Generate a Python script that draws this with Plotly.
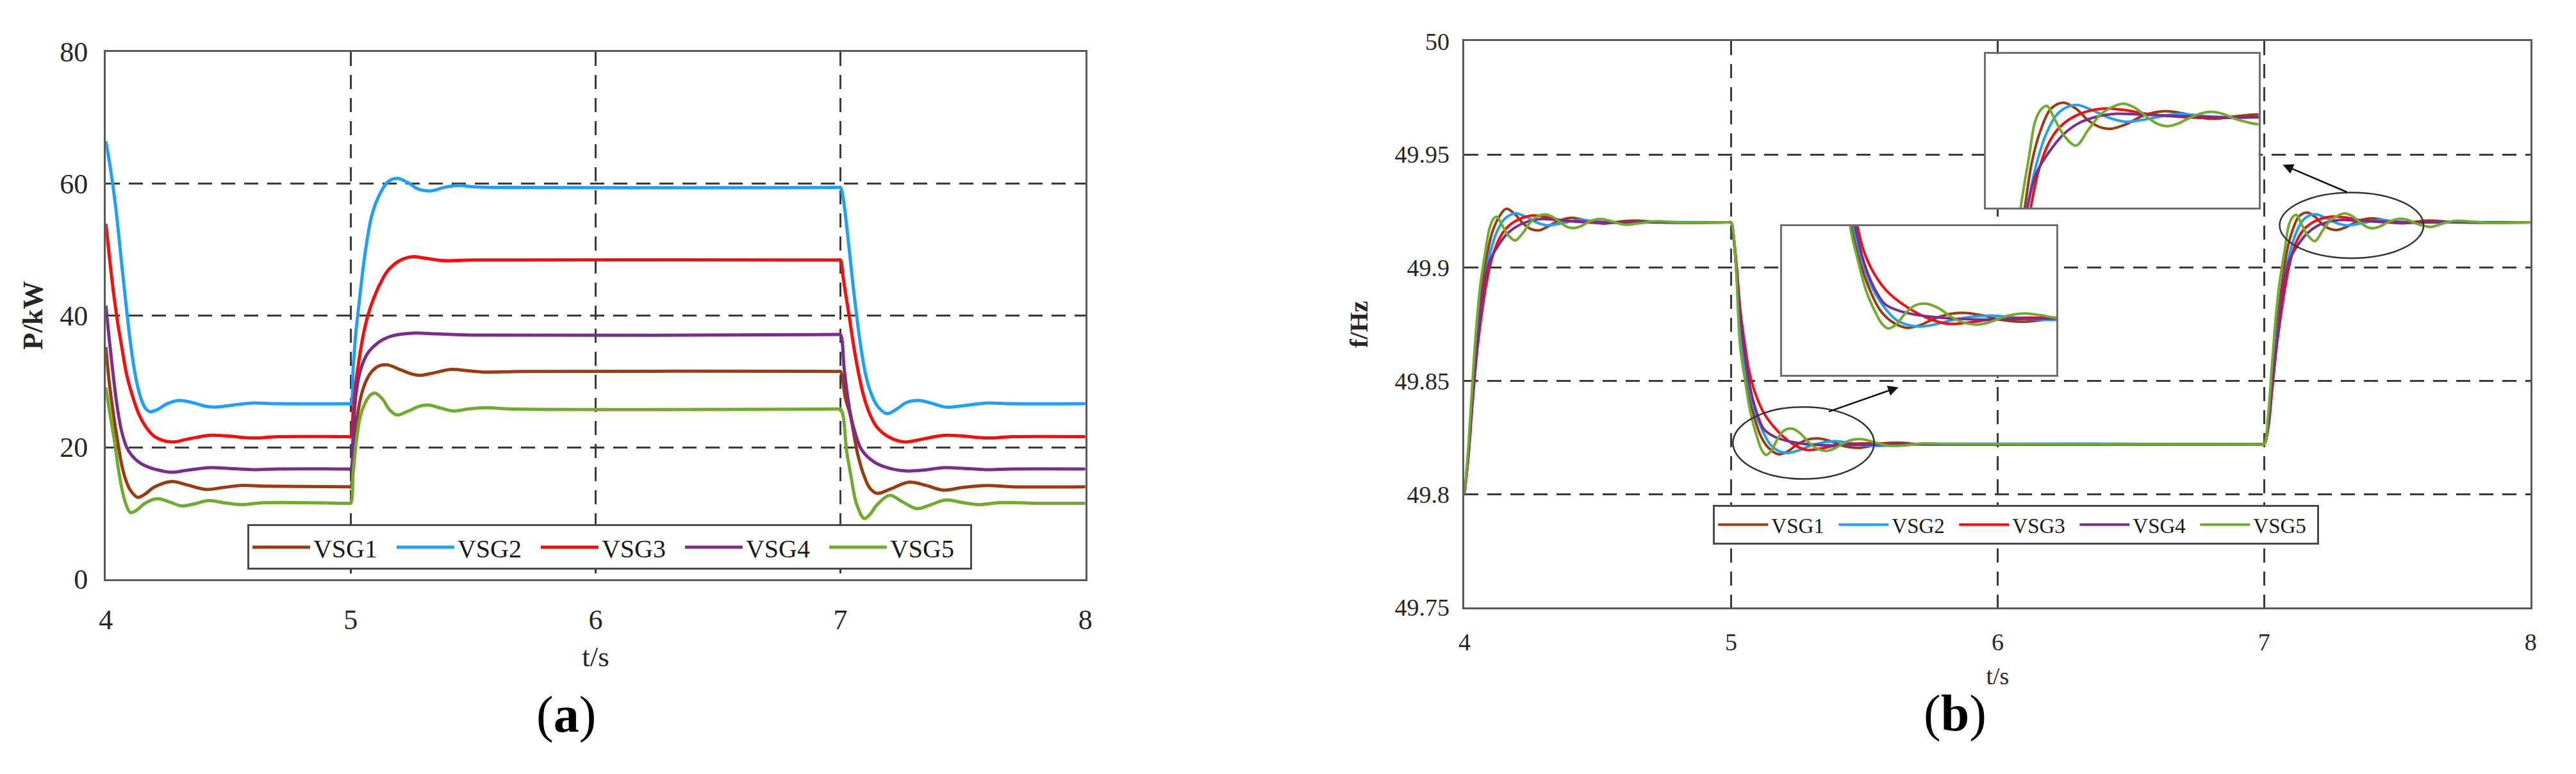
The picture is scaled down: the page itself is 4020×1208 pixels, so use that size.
import plotly.graph_objects as go

W, H = 4020, 1208

names = ["VSG1", "VSG2", "VSG3", "VSG4", "VSG5"]
colors = ["#9C3A10", "#1CA0FA", "#FF0A0A", "#7B2D8E", "#6FAB2C"]

x_ticks = [4, 5, 6, 7, 8]
P_ticks = [0, 20, 40, 60, 80]
f_ticks = [49.75, 49.8, 49.85, 49.9, 49.95, 50]
f_ticktext = ["49.75", "49.8", "49.85", "49.9", "49.95", "50"]

# ---------------- (a) active power P/kW ----------------
tP_VSG1 = [4.0, 4.015, 4.035, 4.05, 4.064, 4.08, 4.1, 4.13, 4.16, 4.2, 4.27, 4.33, 4.41, 4.48, 4.55, 4.65, 4.99,
           5.0, 5.01, 5.02, 5.035, 5.05, 5.07, 5.094, 5.12, 5.15, 5.2, 5.25, 5.28, 5.33, 5.41, 5.48, 5.55, 5.7, 6.99,
           7.0, 7.02, 7.04, 7.07, 7.097, 7.12, 7.15, 7.2, 7.28, 7.35, 7.42, 7.5, 7.6, 7.7, 8.0]
P_VSG1 = [35.2, 29.5, 24.0, 20.5, 17.5, 15.2, 13.5, 12.4, 12.9, 14.0, 14.8, 14.3, 13.6, 13.9, 14.2, 14.1, 14.0,
          14.0, 18.0, 22.5, 26.5, 28.8, 30.6, 31.8, 32.4, 32.5, 31.8, 31.1, 30.9, 31.2, 31.8, 31.6, 31.4, 31.5, 31.5,
          31.5, 27.5, 24.9, 19.0, 15.6, 13.8, 13.0, 13.6, 14.7, 14.2, 13.5, 13.9, 14.2, 14.0, 14.0]

tP_VSG2 = [4.0, 4.02, 4.04, 4.06, 4.08, 4.10, 4.12, 4.14, 4.16, 4.18, 4.21, 4.25, 4.30, 4.35, 4.41, 4.45, 4.52, 4.6, 4.7, 4.99,
           5.0, 5.01, 5.02, 5.036, 5.05, 5.065, 5.085, 5.11, 5.15, 5.19, 5.23, 5.28, 5.33, 5.38, 5.44, 5.5, 5.6, 6.99,
           7.0, 7.01, 7.03, 7.05, 7.08, 7.10, 7.12, 7.15, 7.19, 7.23, 7.27, 7.32, 7.37, 7.43, 7.5, 7.6, 7.7, 8.0]
P_VSG2 = [66.4, 62.0, 56.5, 49.5, 42.5, 36.0, 31.0, 27.8, 26.0, 25.4, 25.7, 26.6, 27.1, 26.8, 26.2, 26.1, 26.4, 26.7, 26.6, 26.6,
          26.6, 32.0, 37.0, 42.4, 47.0, 51.0, 55.0, 57.7, 60.2, 60.8, 60.2, 59.1, 58.9, 59.4, 59.7, 59.5, 59.4, 59.4,
          59.4, 58.0, 52.0, 45.0, 36.0, 31.5, 28.7, 26.3, 25.1, 25.8, 26.8, 27.1, 26.7, 26.1, 26.3, 26.7, 26.6, 26.6]

tP_VSG3 = [4.0, 4.02, 4.035, 4.05, 4.065, 4.085, 4.107, 4.135, 4.165, 4.2, 4.267, 4.33, 4.42, 4.5, 4.6, 4.7, 4.99,
           5.0, 5.01, 5.02, 5.035, 5.05, 5.07, 5.094, 5.12, 5.152, 5.2, 5.25, 5.3, 5.38, 5.5, 6.99,
           7.0, 7.01, 7.02, 7.035, 7.06, 7.093, 7.12, 7.15, 7.2, 7.26, 7.33, 7.42, 7.5, 7.6, 7.7, 8.0]
P_VSG3 = [53.9, 47.0, 42.4, 38.5, 35.2, 31.0, 28.0, 25.0, 23.0, 21.6, 20.8, 21.2, 21.8, 21.7, 21.4, 21.6, 21.6,
          21.6, 25.5, 29.4, 33.5, 36.8, 40.0, 42.6, 44.8, 46.8, 48.3, 48.9, 48.7, 48.3, 48.4, 48.4,
          48.4, 46.0, 43.5, 40.0, 34.0, 28.0, 25.0, 23.0, 21.5, 20.8, 21.2, 21.8, 21.7, 21.4, 21.6, 21.6]

tP_VSG4 = [4.0, 4.015, 4.03, 4.045, 4.064, 4.085, 4.107, 4.14, 4.18, 4.23, 4.27, 4.33, 4.42, 4.5, 4.6, 4.7, 4.99,
           5.0, 5.01, 5.02, 5.035, 5.05, 5.07, 5.094, 5.13, 5.17, 5.25, 5.35, 5.5, 6.99,
           7.0, 7.015, 7.03, 7.05, 7.087, 7.14, 7.2, 7.27, 7.33, 7.42, 7.5, 7.6, 7.7, 8.0]
P_VSG4 = [41.5, 36.0, 31.0, 26.5, 22.5, 20.0, 18.7, 17.6, 16.9, 16.4, 16.2, 16.5, 16.9, 16.8, 16.6, 16.7, 16.7,
          16.7, 22.0, 27.5, 31.0, 32.8, 34.3, 35.3, 36.3, 36.9, 37.3, 37.2, 37.0, 37.1,
          37.1, 32.0, 27.5, 23.5, 19.6, 17.7, 16.8, 16.4, 16.5, 16.9, 16.8, 16.6, 16.7, 16.7]

tP_VSG5 = [4.0, 4.015, 4.035, 4.05, 4.065, 4.08, 4.1, 4.12, 4.16, 4.21, 4.26, 4.31, 4.36, 4.42, 4.48, 4.55, 4.65, 4.99,
           5.0, 5.01, 5.025, 5.04, 5.06, 5.08, 5.1, 5.13, 5.16, 5.19, 5.23, 5.28, 5.32, 5.37, 5.42, 5.48, 5.55, 5.65, 6.99,
           7.0, 7.01, 7.025, 7.043, 7.065, 7.097, 7.12, 7.15, 7.2, 7.25, 7.31, 7.37, 7.43, 7.5, 7.57, 7.65, 7.8, 8.0]
P_VSG5 = [29.1, 25.5, 21.0, 17.0, 13.8, 11.6, 10.1, 10.3, 11.5, 12.2, 11.7, 11.1, 11.4, 11.9, 11.6, 11.3, 11.6, 11.5,
          11.5, 16.0, 21.5, 24.8, 26.8, 27.9, 28.2, 27.3, 25.6, 24.9, 25.4, 26.2, 26.4, 25.9, 25.5, 25.8, 26.0, 25.8, 25.8,
          25.8, 24.9, 19.5, 15.6, 11.5, 9.2, 9.8, 11.3, 12.7, 11.8, 10.7, 11.3, 12.0, 11.6, 11.3, 11.6, 11.5, 11.5]

# ---------------- (b) frequency f/Hz ----------------
tf_VSG1 = [4.0, 4.015, 4.03, 4.05, 4.068, 4.085, 4.105, 4.13, 4.156, 4.19, 4.22, 4.25, 4.28, 4.31, 4.35, 4.40, 4.45, 4.49, 4.53, 4.58, 4.64, 4.72, 4.8, 4.99,
           5.0, 5.01, 5.02, 5.039, 5.06, 5.085, 5.11, 5.14, 5.179, 5.21, 5.25, 5.29, 5.328, 5.37, 5.42, 5.476, 5.52, 5.57, 5.63, 5.7, 5.8, 6.99,
           7.0, 7.015, 7.03, 7.05, 7.068, 7.085, 7.105, 7.13, 7.16, 7.19, 7.22, 7.25, 7.276, 7.31, 7.35, 7.40, 7.45, 7.49, 7.524, 7.57, 7.62, 7.7, 7.8, 8.0]
f_VSG1 = [49.80, 49.82, 49.846, 49.874, 49.893, 49.906, 49.916, 49.9225, 49.926, 49.9235, 49.9195, 49.917, 49.9165, 49.918, 49.9205, 49.922, 49.921, 49.9198, 49.9195, 49.9203, 49.9208, 49.9202, 49.9198, 49.92,
          49.92, 49.913, 49.899, 49.8654, 49.848, 49.835, 49.826, 49.8205, 49.8176, 49.8187, 49.822, 49.8242, 49.8246, 49.8235, 49.8213, 49.8204, 49.8212, 49.8224, 49.8227, 49.8221, 49.8219, 49.822,
          49.822, 49.832, 49.852, 49.876, 49.8935, 49.907, 49.916, 49.9225, 49.9243, 49.9225, 49.919, 49.917, 49.9167, 49.918, 49.9205, 49.9218, 49.921, 49.9198, 49.9196, 49.9203, 49.9208, 49.9202, 49.9198, 49.92]

tf_VSG2 = [4.0, 4.015, 4.03, 4.05, 4.074, 4.095, 4.12, 4.15, 4.19, 4.23, 4.27, 4.31, 4.36, 4.43, 4.5, 4.56, 4.65, 4.99,
           5.0, 5.01, 5.02, 5.043, 5.065, 5.09, 5.12, 5.15, 5.18, 5.212, 5.25, 5.3, 5.35, 5.392, 5.44, 5.5, 5.56, 5.63, 5.72, 6.99,
           7.0, 7.015, 7.03, 7.05, 7.074, 7.095, 7.12, 7.15, 7.19, 7.23, 7.27, 7.31, 7.36, 7.432, 7.5, 7.56, 7.65, 8.0]
f_VSG2 = [49.80, 49.819, 49.843, 49.87, 49.893, 49.906, 49.9155, 49.9215, 49.924, 49.9225, 49.92, 49.9187, 49.9195, 49.921, 49.9203, 49.9198, 49.9201, 49.92,
          49.92, 49.9125, 49.899, 49.8654, 49.849, 49.8365, 49.8275, 49.8215, 49.819, 49.8182, 49.8192, 49.8215, 49.8229, 49.8234, 49.8227, 49.8216, 49.8213, 49.8218, 49.8222, 49.822,
          49.822, 49.830, 49.849, 49.872, 49.8935, 49.906, 49.9155, 49.9215, 49.9236, 49.922, 49.9198, 49.9187, 49.9195, 49.921, 49.9203, 49.9198, 49.9201, 49.92]

tf_VSG3 = [4.0, 4.015, 4.03, 4.05, 4.082, 4.1, 4.125, 4.15, 4.19, 4.25, 4.3, 4.36, 4.43, 4.5, 4.6, 4.99,
           5.0, 5.01, 5.02, 5.035, 5.0525, 5.067, 5.089, 5.125, 5.176, 5.234, 5.284, 5.33, 5.38, 5.45, 5.55, 5.65, 6.99,
           7.0, 7.015, 7.03, 7.05, 7.082, 7.1, 7.125, 7.15, 7.19, 7.249, 7.3, 7.36, 7.43, 7.5, 7.6, 8.0]
f_VSG3 = [49.80, 49.817, 49.84, 49.866, 49.893, 49.903, 49.9115, 49.9165, 49.9205, 49.923, 49.9225, 49.921, 49.9202, 49.9198, 49.92, 49.92,
          49.92, 49.9135, 49.902, 49.881, 49.8654, 49.8547, 49.8451, 49.8354, 49.8277, 49.822, 49.8195, 49.82, 49.8212, 49.8222, 49.8224, 49.822, 49.822,
          49.822, 49.829, 49.846, 49.868, 49.8935, 49.904, 49.9125, 49.917, 49.9205, 49.9225, 49.9222, 49.921, 49.9202, 49.9198, 49.92, 49.92]

tf_VSG4 = [4.0, 4.015, 4.03, 4.05, 4.074, 4.095, 4.125, 4.16, 4.2, 4.24, 4.29, 4.35, 4.45, 4.6, 4.99,
           5.0, 5.01, 5.02, 5.047, 5.07, 5.095, 5.123, 5.16, 5.2, 5.25, 5.3, 5.38, 5.45, 5.55, 6.99,
           7.0, 7.015, 7.03, 7.05, 7.074, 7.095, 7.125, 7.16, 7.2, 7.24, 7.28, 7.35, 7.45, 7.6, 8.0]
f_VSG4 = [49.80, 49.818, 49.842, 49.868, 49.893, 49.903, 49.9095, 49.915, 49.9185, 49.9205, 49.9215, 49.921, 49.9203, 49.92, 49.92,
          49.92, 49.9125, 49.899, 49.8654, 49.848, 49.8365, 49.8287, 49.8255, 49.8238, 49.8226, 49.8219, 49.8215, 49.8217, 49.822, 49.822,
          49.822, 49.830, 49.848, 49.870, 49.8935, 49.9035, 49.9097, 49.915, 49.9185, 49.9202, 49.921, 49.9208, 49.9203, 49.92, 49.92]

tf_VSG5 = [4.0, 4.015, 4.03, 4.045, 4.06, 4.078, 4.093, 4.108, 4.121, 4.14, 4.163, 4.19, 4.22, 4.25, 4.28, 4.303, 4.33, 4.36, 4.385, 4.41, 4.44, 4.47, 4.51, 4.55, 4.6, 4.65, 4.72, 4.8, 4.99,
           5.0, 5.01, 5.02, 5.034, 5.053, 5.074, 5.096, 5.115, 5.131, 5.15, 5.175, 5.2, 5.23, 5.26, 5.29, 5.32, 5.357, 5.39, 5.43, 5.46, 5.487, 5.52, 5.56, 5.6, 5.65, 5.72, 5.8, 6.99,
           7.0, 7.015, 7.03, 7.045, 7.058, 7.078, 7.093, 7.108, 7.121, 7.14, 7.163, 7.19, 7.22, 7.25, 7.28, 7.303, 7.33, 7.36, 7.385, 7.407, 7.43, 7.46, 7.49, 7.512, 7.54, 7.57, 7.6, 7.625, 7.67, 7.72, 7.78, 7.85, 8.0]
f_VSG5 = [49.80, 49.822, 49.85, 49.875, 49.893, 49.907, 49.917, 49.9215, 49.9225, 49.919, 49.9145, 49.912, 49.9155, 49.9205, 49.923, 49.9235, 49.9225, 49.92, 49.918, 49.9175, 49.9185, 49.9205, 49.9215, 49.9205, 49.919, 49.9195, 49.9205, 49.92, 49.92,
          49.92, 49.914, 49.897, 49.8654, 49.8499, 49.8354, 49.8258, 49.8195, 49.8173, 49.819, 49.8245, 49.8282, 49.8289, 49.8268, 49.823, 49.8203, 49.8191, 49.8203, 49.823, 49.8241, 49.8243, 49.8235, 49.8222, 49.8213, 49.8215, 49.8224, 49.8222, 49.822,
          49.822, 49.835, 49.858, 49.880, 49.8935, 49.9085, 49.919, 49.9225, 49.9233, 49.9192, 49.9144, 49.9117, 49.9165, 49.921, 49.9232, 49.924, 49.9228, 49.920, 49.918, 49.9174, 49.918, 49.9198, 49.9212, 49.9216, 49.921, 49.9195, 49.9185, 49.918, 49.9195, 49.9207, 49.9203, 49.9198, 49.92]

tP = [tP_VSG1, tP_VSG2, tP_VSG3, tP_VSG4, tP_VSG5]
P = [P_VSG1, P_VSG2, P_VSG3, P_VSG4, P_VSG5]
tf = [tf_VSG1, tf_VSG2, tf_VSG3, tf_VSG4, tf_VSG5]
f = [f_VSG1, f_VSG2, f_VSG3, f_VSG4, f_VSG5]
for a, b in list(zip(tP, P)) + list(zip(tf, f)):
    assert len(a) == len(b), (len(a), len(b))

# inset view windows (zoomed regions of panel b)
insetA_x = [6.975, 7.625]
insetA_y = [49.8935, 49.9385]
insetB_x = [4.86, 5.56]
insetB_y = [49.7954, 49.8654]

SERIF = "Liberation Serif, Times New Roman, serif"
GRID = "#3a3a3a"
FRAME = "#5a5a5a"

fig = go.Figure()
for i in range(5):
    fig.add_trace(go.Scatter(x=tP[i], y=P[i], xaxis="x", yaxis="y", mode="lines", name=names[i],
                             line=dict(color=colors[i], width=5, shape="spline", smoothing=1.0),
                             legend="legend"))
for i in range(5):
    fig.add_trace(go.Scatter(x=tf[i], y=f[i], xaxis="x2", yaxis="y2", mode="lines", name=names[i],
                             line=dict(color=colors[i], width=4, shape="spline", smoothing=1.0),
                             legend="legend2"))
for i in range(5):
    fig.add_trace(go.Scatter(x=tf[i], y=f[i], xaxis="x3", yaxis="y3", mode="lines", name=names[i],
                             line=dict(color=colors[i], width=4, shape="spline", smoothing=1.0),
                             showlegend=False))
for i in range(5):
    fig.add_trace(go.Scatter(x=tf[i], y=f[i], xaxis="x4", yaxis="y4", mode="lines", name=names[i],
                             line=dict(color=colors[i], width=4, shape="spline", smoothing=1.0),
                             showlegend=False))


def main_axis(domain, rng, tickvals, size, standoff, title, title_size, title_standoff, ticktext=None):
    d = dict(domain=domain, range=rng, tickvals=tickvals, showgrid=True, gridcolor=GRID, gridwidth=3,
             griddash="22px,14px", zeroline=False, showline=True, linecolor=FRAME, linewidth=3, mirror=True,
             ticks="", ticklabelstandoff=standoff,
             tickfont=dict(family=SERIF, size=size, color="#262626"),
             title=dict(text=title, font=dict(family=SERIF, size=title_size, color="#262626"),
                        standoff=title_standoff))
    if ticktext is not None:
        d["ticktext"] = ticktext
    return d


def inset_axis(domain, rng, anchor):
    return dict(domain=domain, range=rng, anchor=anchor, showgrid=False, zeroline=False,
                showticklabels=False, ticks="", showline=True, linecolor="#6e6e6e", linewidth=3, mirror=True)


fig.update_layout(
    width=W, height=H, margin=dict(l=0, r=0, t=0, b=0),
    paper_bgcolor="white", plot_bgcolor="white",
    xaxis=main_axis([155 / W, 1692 / W], [4, 8], x_ticks, 44, 22, "t/s", 45, 18),
    yaxis=main_axis([1 - 917 / H, 1 - 59 / H], [0, 80], P_ticks, 44, 16, "<b>P/kW</b>", 44, 13),
    xaxis2=dict(main_axis([2287 / W, 3960 / W], [4, 8], x_ticks, 38, 18, "t/s", 38, 20), anchor="y2"),
    yaxis2=dict(main_axis([1 - 963 / H, 1 - 42 / H], [49.75, 50], f_ticks, 38, 13, "<b>f/Hz</b>", 40, 30,
                          ticktext=f_ticktext), anchor="x2"),
    xaxis3=inset_axis([3105 / W, 3533 / W], insetA_x, "y3"),
    yaxis3=inset_axis([1 - 313 / H, 1 - 63 / H], insetA_y, "x3"),
    xaxis4=inset_axis([2785 / W, 3216 / W], insetB_x, "y4"),
    yaxis4=inset_axis([1 - 585 / H, 1 - 343 / H], insetB_y, "x4"),
    legend=dict(x=377 / W, y=1 - 828 / H, xanchor="left", yanchor="top", orientation="h",
                bgcolor="white", bordercolor="#4a4a4a", borderwidth=3, entrywidth=120, itemwidth=90,
                font=dict(family=SERIF, size=40, color="#1a1a1a")),
    legend2=dict(x=2677 / W, y=1 - 796 / H, xanchor="left", yanchor="top", orientation="h",
                 bgcolor="white", bordercolor="#4a4a4a", borderwidth=3, entrywidth=95, itemwidth=78,
                 font=dict(family=SERIF, size=33, color="#1a1a1a")),
    showlegend=True,
)

# highlight ellipses and arrows in panel (b)
fig.add_shape(type="circle", xref="x2", yref="y2", x0=5.007, x1=5.537, y0=49.8067, y1=49.8385,
              line=dict(color="#333333", width=2.5), layer="above")
fig.add_shape(type="circle", xref="x2", yref="y2", x0=7.058, x1=7.598, y0=49.9042, y1=49.9332,
              line=dict(color="#333333", width=2.5), layer="above")
fig.add_annotation(x=5.628, y=49.8472, ax=5.363, ay=49.8363, xref="x2", yref="y2", axref="x2", ayref="y2",
                   text="", showarrow=True, arrowhead=2, arrowsize=1.3, arrowwidth=2.5, arrowcolor="#111111")
fig.add_annotation(x=7.070, y=49.9454, ax=7.314, ay=49.9332, xref="x2", yref="y2", axref="x2", ayref="y2",
                   text="", showarrow=True, arrowhead=2, arrowsize=1.3, arrowwidth=2.5, arrowcolor="#111111")

# panel labels
fig.add_annotation(x=877 / W, y=1 - 1138 / H, xref="paper", yref="paper", text="(<b>a</b>)", showarrow=False,
                   font=dict(family=SERIF, size=80, color="black"), xanchor="center", yanchor="middle")
fig.add_annotation(x=3057 / W, y=1 - 1136 / H, xref="paper", yref="paper", text="(<b>b</b>)", showarrow=False,
                   font=dict(family=SERIF, size=80, color="black"), xanchor="center", yanchor="middle")

fig.write_html("out.html", config={"displayModeBar": False},
               post_script="document.body.style.margin='0';document.body.style.overflow='hidden';")
